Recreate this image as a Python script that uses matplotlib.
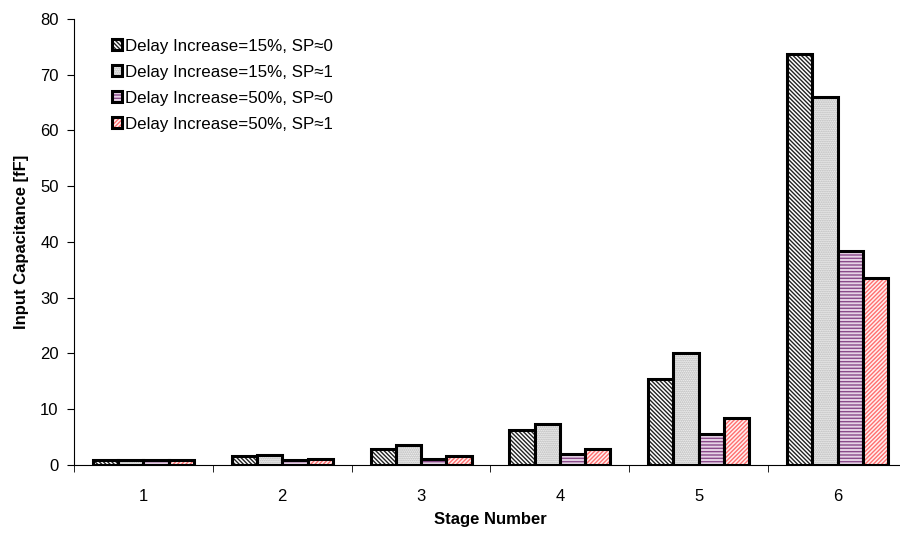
import matplotlib.pyplot as plt
import numpy as np
from matplotlib.patches import Patch

plt.rcParams['font.family'] = ['Liberation Sans', 'DejaVu Sans']
plt.rcParams['hatch.linewidth'] = 1.0

stages = ['1', '2', '3', '4', '5', '6']
series = ['Delay Increase=15%, SP\u22480', 'Delay Increase=15%, SP\u22481',
          'Delay Increase=50%, SP\u22480', 'Delay Increase=50%, SP\u22481']
d15_sp0 = [0.9, 1.6, 2.9, 6.2, 15.4, 73.8]
d15_sp1 = [0.9, 1.8, 3.5, 7.3, 20.1, 66.0]
d50_sp0 = [0.9, 0.9, 1.0, 2.0, 5.5, 38.3]
d50_sp1 = [0.9, 1.0, 1.6, 2.8, 8.4, 33.5]
values = [d15_sp0, d15_sp1, d50_sp0, d50_sp1]

hatches = ['\\' * 8, '.' * 8, '-' * 5, '/' * 8]
hatch_colors = ['#222222', '#a8a8a8', '#8A4A8A', '#FF7070']
face_colors = ['#ffffff', '#ffffff', '#e6d3e6', '#fff0f0']

fig = plt.figure(figsize=(9, 5.39), dpi=100)
ax = fig.add_axes([0.0822, 0.1373, 0.9256, 0.8275])

x = np.arange(len(stages))
w = 0.182
handles = []
for i, (vals, h, hc, fc) in enumerate(zip(values, hatches, hatch_colors, face_colors)):
    pos = x + (i - 1.5) * w
    ax.bar(pos, vals, w, color=fc, edgecolor=hc, hatch=h, linewidth=0)
    ax.bar(pos, vals, w, color='none', edgecolor='black', linewidth=2.2)
    handles.append((Patch(facecolor=fc, edgecolor=hc, hatch=h, linewidth=0),
                    Patch(facecolor='none', edgecolor='black', linewidth=2.2)))

ax.set_xlim(-0.5, 5.5)
ax.set_ylim(0, 80)
ax.set_yticks(np.arange(0, 81, 10))
ax.set_xticks(x)
ax.set_xticklabels(stages)
ax.set_xticks(np.arange(-0.5, 6.0, 1), minor=True)
ax.tick_params(axis='x', which='major', length=0, pad=17, labelsize=12)
ax.tick_params(axis='x', which='minor', length=5, direction='out')
ax.tick_params(axis='y', length=5, direction='out', labelsize=12, pad=6)
for s in ['top', 'right']:
    ax.spines[s].set_visible(False)

ax.set_xlabel('Stage Number', fontsize=12, fontweight='bold', labelpad=6)
ax.set_ylabel('Input Capacitance [fF]', fontsize=12, fontweight='bold', labelpad=8)

ax.legend(handles, series, loc='upper left', bbox_to_anchor=(0.027, 0.99),
          frameon=False, fontsize=12.2, handlelength=0.6, handleheight=0.6,
          handletextpad=0.2, labelspacing=0.65)

plt.savefig('out.png', dpi=100)
